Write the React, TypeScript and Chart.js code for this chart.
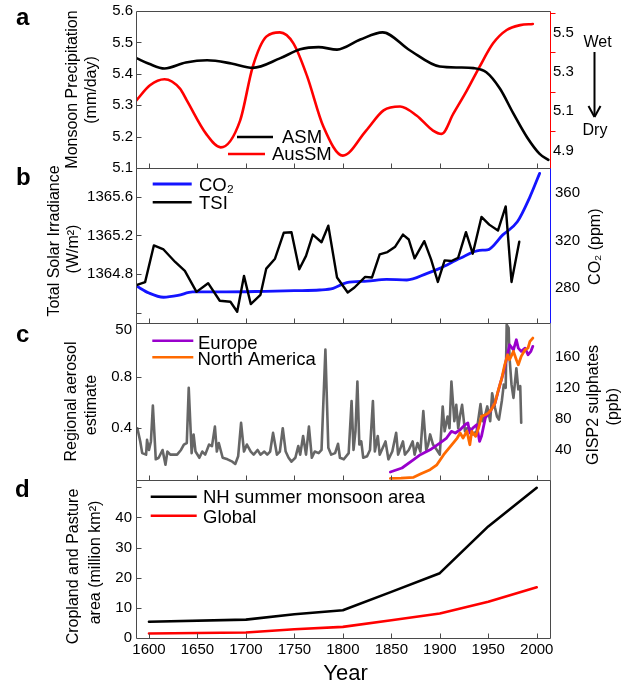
import React, { useEffect, useRef } from "react";
import { Chart, registerables } from "chart.js";

Chart.register(...registerables);

const W = 638;
const H = 682;
const PLOT_LEFT = 136;
const PLOT_RIGHT = 550;
const FAM = '"Liberation Sans", Arial, Helvetica, sans-serif';
const FRAME = "#4a4a4a";

const X_MIN = 1586.6;
const X_MAX = 2013.7;
const yearTicks = [1600, 1650, 1700, 1750, 1800, 1850, 1900, 1950, 2000];
const yearTickLabels = ["1600", "1650", "1700", "1750", "1800", "1850", "1900", "1950", "2000"];

// ---------- Panel a: monsoon precipitation ----------
const asmYears = [1587, 1600, 1616, 1638, 1660, 1685, 1707, 1735, 1756, 1775, 1794, 1818, 1841, 1869, 1900, 1920, 1935, 1948, 1962, 1976, 1990, 2003, 2012];
const asmPrecip = [5.45, 5.432, 5.417, 5.436, 5.443, 5.433, 5.419, 5.449, 5.478, 5.485, 5.477, 5.509, 5.532, 5.475, 5.423, 5.42, 5.418, 5.405, 5.353, 5.273, 5.198, 5.145, 5.126];
const ausYears = [1587, 1601, 1616, 1632, 1639, 1659, 1674, 1694, 1707, 1721, 1735, 1749, 1763, 1780, 1800, 1824, 1842, 1859, 1876, 1893, 1902, 1914, 1928, 1941, 1955, 1969, 1983, 1996];
const ausPrecip = [5.155, 5.232, 5.263, 5.215, 5.155, 4.984, 4.915, 5.052, 5.326, 5.48, 5.502, 5.446, 5.28, 5.02, 4.873, 5.001, 5.104, 5.124, 5.078, 5.001, 4.984, 5.087, 5.206, 5.326, 5.446, 5.514, 5.539, 5.545];
const aLeftTicks = [5.1, 5.2, 5.3, 5.4, 5.5, 5.6];
const aLeftLabels = ["5.1", "5.2", "5.3", "5.4", "5.5", "5.6"];
const aRightTicks = [4.9, 5.1, 5.3, 5.5];
const aRightLabels = ["4.9", "5.1", "5.3", "5.5"];
const aRightMinor = [5.0, 5.2, 5.4, 5.6];

// ---------- Panel b: TSI and CO2 ----------
const tsiYears = [1587, 1596, 1605, 1615, 1627, 1637, 1649, 1661, 1673, 1684, 1691, 1698, 1705, 1715, 1721, 1730, 1739, 1747, 1755, 1762, 1769, 1778, 1785, 1794, 1805, 1812, 1823, 1830, 1838, 1846, 1854, 1862, 1868, 1874, 1884, 1891, 1898, 1905, 1912, 1919, 1927, 1934, 1943, 1951, 1960, 1968, 1974, 1982];
const tsiValues = [1364.689, 1364.72, 1365.097, 1365.056, 1364.927, 1364.835, 1364.62, 1364.709, 1364.529, 1364.518, 1364.416, 1364.784, 1364.495, 1364.59, 1364.859, 1364.961, 1365.227, 1365.233, 1364.852, 1364.99, 1365.209, 1365.13, 1365.3, 1364.767, 1364.614, 1364.665, 1364.774, 1364.767, 1365.005, 1365.029, 1365.084, 1365.209, 1365.158, 1364.964, 1365.141, 1364.954, 1364.722, 1364.944, 1364.937, 1364.971, 1365.233, 1365.012, 1365.39, 1365.311, 1365.25, 1365.498, 1364.722, 1365.135];
const co2Years = [1587, 1600, 1615, 1630, 1645, 1680, 1720, 1750, 1776, 1790, 1804, 1825, 1845, 1866, 1887, 1900, 1921, 1941, 1949, 1965, 1980, 1993, 2003];
const co2Ppm = [282, 276, 272.5, 274, 277, 277, 277.5, 278, 278.6, 280, 284.8, 286, 287.6, 287, 292.6, 296.8, 305.3, 312, 312.3, 325, 336, 357, 376.8];
const bLeftTicks = [1364.8, 1365.2, 1365.6];
const bLeftLabels = ["1364.8", "1365.2", "1365.6"];
const bLeftMarks = [1364.4, 1364.8, 1365.2, 1365.6];
const bRightTicks = [280, 320, 360];
const bRightLabels = ["280", "320", "360"];

// ---------- Panel c: aerosols and sulphates ----------
const gispYears = [1588, 1591, 1593, 1597, 1598, 1600, 1602, 1604, 1607, 1610, 1614, 1617, 1619, 1622, 1629, 1633, 1636, 1639, 1641, 1644, 1646, 1648, 1652, 1655, 1658, 1662, 1665, 1668, 1670, 1672, 1676, 1681, 1686, 1689, 1692, 1695, 1698, 1701, 1705, 1708, 1712, 1715, 1719, 1722, 1725, 1728, 1732, 1735, 1738, 1741, 1744, 1747, 1751, 1754, 1756, 1759, 1762, 1765, 1768, 1771, 1775, 1778, 1782, 1785, 1788, 1792, 1795, 1797, 1801, 1806, 1809, 1811, 1813, 1815, 1817, 1819, 1821, 1825, 1828, 1831, 1833, 1836, 1838, 1844, 1847, 1851, 1855, 1857, 1862, 1864, 1868, 1872, 1874, 1877, 1880, 1883, 1886, 1888, 1890, 1893, 1897, 1900, 1903, 1905, 1908, 1910, 1912, 1915, 1917, 1919, 1921, 1923, 1926, 1928, 1931, 1934, 1938, 1942, 1944, 1946, 1949, 1952, 1954, 1957, 1959, 1961, 1964, 1966, 1968, 1969, 1971, 1972, 1974, 1976, 1977, 1979, 1981, 1983, 1984];
const gispPpb = [68, 51, 36, 34, 53, 40, 51, 97, 28, 30, 40, 21, 38, 34, 34, 40, 47, 49, 120, 36, 60, 38, 30, 38, 34, 47, 45, 70, 38, 49, 30, 28, 25, 22, 32, 75, 38, 47, 38, 34, 40, 34, 38, 34, 38, 62, 34, 38, 68, 38, 30, 25, 30, 45, 34, 58, 34, 70, 30, 38, 36, 40, 169, 43, 34, 36, 48, 30, 28, 36, 103, 40, 64, 128, 47, 51, 30, 32, 40, 103, 38, 58, 34, 51, 28, 38, 62, 34, 51, 34, 40, 51, 34, 49, 38, 90, 40, 47, 60, 47, 40, 34, 96, 64, 83, 68, 128, 77, 98, 68, 85, 98, 64, 68, 68, 60, 64, 99, 77, 81, 96, 77, 113, 94, 83, 79, 103, 124, 120, 201, 197, 158, 124, 107, 120, 145, 118, 122, 75];
const europeYears = [1849, 1861, 1873, 1880, 1890, 1900, 1907, 1912, 1916, 1921, 1926, 1929, 1931, 1934, 1938, 1941, 1943, 1947, 1952, 1957, 1962, 1966, 1969, 1972, 1976, 1979, 1981, 1984, 1988, 1991, 1994, 1996];
const europeAerosol = [0.062, 0.093, 0.157, 0.196, 0.234, 0.286, 0.325, 0.377, 0.364, 0.389, 0.428, 0.441, 0.364, 0.402, 0.428, 0.299, 0.338, 0.48, 0.532, 0.596, 0.737, 0.841, 0.944, 1.047, 1.008, 1.086, 1.021, 0.996, 1.021, 0.97, 0.996, 1.035];
const naYears = [1849, 1860, 1873, 1880, 1890, 1897, 1904, 1911, 1918, 1921, 1924, 1928, 1931, 1933, 1937, 1940, 1943, 1947, 1950, 1953, 1957, 1960, 1964, 1967, 1970, 1972, 1976, 1979, 1981, 1984, 1988, 1991, 1993, 1996];
const naAerosol = [0.012, 0.015, 0.021, 0.046, 0.08, 0.118, 0.196, 0.261, 0.325, 0.364, 0.325, 0.377, 0.273, 0.377, 0.338, 0.402, 0.493, 0.505, 0.518, 0.544, 0.596, 0.686, 0.789, 0.892, 0.97, 0.931, 0.996, 0.931, 0.892, 0.957, 1.008, 1.021, 1.073, 1.099];
const cLeftTicks = [0.4, 0.8, 1.16];
const cLeftLabels = ["0.4", "0.8", "50"];
const cLeftMarks = [0.4, 0.8];
const cRightTicks = [40, 80, 120, 160];
const cRightLabels = ["40", "80", "120", "160"];

// ---------- Panel d: cropland and pasture ----------
const landYears = [1600, 1700, 1750, 1800, 1850, 1900, 1950, 2000];
const nhMonsoonArea = [5.4, 6.1, 7.9, 9.2, 15.3, 21.5, 37, 49.8];
const globalArea = [1.5, 1.8, 2.9, 3.7, 5.9, 8.1, 12, 16.8];
const dLeftTicks = [0, 10, 20, 30, 40];
const dLeftLabels = ["0", "10", "20", "30", "40"];
const dLeftMarks = [10, 20, 30, 40, 50];

// ---------- types & helpers ----------
type Txt = { t: string; x: number; y: number; size: number; bold?: boolean; rot?: boolean; align?: CanvasTextAlign };
type Seg = { x1: number; y1: number; x2: number; y2: number; color: string; width: number };
type AxisSpec = { min: number; max: number; values: number[]; labels: string[]; marks: number[]; pad: number; color?: string; markLen?: number };
type PanelSpec = {
  top: number;
  bottom: number;
  datasets: any[];
  left: AxisSpec;
  right?: AxisSpec;
  rightBorder: string;
  showX: boolean;
  texts: Txt[];
  segs: Seg[];
};

function pts(xs: number[], ys: number[]) {
  return xs.map((x, i) => ({ x, y: ys[i] }));
}

function line(label: string, xs: number[], ys: number[], axis: string, color: string, width: number, smooth = false) {
  return {
    label,
    data: pts(xs, ys),
    yAxisID: axis,
    borderColor: color,
    backgroundColor: color,
    borderWidth: width,
    pointRadius: 0,
    fill: false,
    tension: 0,
    cubicInterpolationMode: smooth ? "monotone" : "default",
  };
}

function yAxis(spec: AxisSpec, pos: "left" | "right") {
  return {
    type: "linear",
    position: pos,
    min: spec.min,
    max: spec.max,
    grid: { display: false, drawTicks: false },
    border: { display: false },
    afterBuildTicks: (s: any) => {
      s.ticks = spec.values.map((v) => ({ value: v }));
    },
    afterFit: (s: any) => {
      s.width = pos === "left" ? PLOT_LEFT : W - PLOT_RIGHT;
    },
    ticks: {
      autoSkip: false,
      padding: spec.pad,
      color: "#000",
      font: { family: FAM, size: 15, lineHeight: 1 },
      callback: (_v: any, i: number) => spec.labels[i],
    },
  };
}

function deco(spec: PanelSpec) {
  return {
    id: "deco",
    afterDraw(chart: any) {
      const ctx: CanvasRenderingContext2D = chart.ctx;
      const a = chart.chartArea;
      const xs = chart.scales.x;
      const yl = chart.scales.yL;
      const yr = chart.scales.yR;
      const L = Math.round(a.left) + 0.5;
      const R = Math.round(a.right) + 0.5;
      const T = Math.round(a.top) + 0.5;
      const B = Math.round(a.bottom) + 0.5;
      ctx.save();
      ctx.lineWidth = 1;
      ctx.strokeStyle = FRAME;
      ctx.beginPath();
      ctx.moveTo(R, T);
      ctx.lineTo(L, T);
      ctx.lineTo(L, B);
      ctx.lineTo(R, B);
      for (const yv of yearTicks) {
        const px = Math.round(xs.getPixelForValue(yv)) + 0.5;
        ctx.moveTo(px, B);
        ctx.lineTo(px, B - 5);
      }
      for (const v of spec.left.marks) {
        const py = Math.round(yl.getPixelForValue(v)) + 0.5;
        ctx.moveTo(L, py);
        ctx.lineTo(L + 5, py);
      }
      ctx.stroke();
      ctx.strokeStyle = spec.rightBorder;
      ctx.beginPath();
      ctx.moveTo(R, T);
      ctx.lineTo(R, B);
      ctx.stroke();
      if (spec.right && yr) {
        ctx.strokeStyle = spec.right.color || FRAME;
        ctx.beginPath();
        for (const v of spec.right.marks) {
          const py = Math.round(yr.getPixelForValue(v)) + 0.5;
          ctx.moveTo(R, py);
          ctx.lineTo(R + (spec.right.markLen || 5), py);
        }
        ctx.stroke();
      }
      ctx.lineCap = "butt";
      for (const s of spec.segs) {
        ctx.strokeStyle = s.color;
        ctx.lineWidth = s.width;
        ctx.beginPath();
        ctx.moveTo(s.x1, s.y1);
        ctx.lineTo(s.x2, s.y2);
        ctx.stroke();
      }
      ctx.fillStyle = "#000";
      for (const t of spec.texts) {
        ctx.font = `${t.bold ? "bold " : ""}${t.size}px ${FAM}`;
        if (t.rot) {
          ctx.save();
          ctx.translate(t.x, t.y);
          ctx.rotate(-Math.PI / 2);
          ctx.textAlign = "center";
          ctx.textBaseline = "middle";
          ctx.fillText(t.t, 0, 0);
          ctx.restore();
        } else {
          ctx.textAlign = t.align || "left";
          ctx.textBaseline = "alphabetic";
          ctx.fillText(t.t, t.x, t.y);
        }
      }
      ctx.restore();
    },
  };
}

function buildConfig(spec: PanelSpec): any {
  const scales: any = {
    x: {
      type: "linear",
      min: X_MIN,
      max: X_MAX,
      display: spec.showX,
      grid: { display: false, drawTicks: false },
      border: { display: false },
      afterBuildTicks: (s: any) => {
        s.ticks = yearTicks.map((v) => ({ value: v }));
      },
      ticks: {
        autoSkip: false,
        maxRotation: 0,
        padding: 4,
        color: "#000",
        font: { family: FAM, size: 15, lineHeight: 1 },
        callback: (_v: any, i: number) => yearTickLabels[i],
      },
    },
    yL: yAxis(spec.left, "left"),
  };
  if (spec.showX) {
    scales.x.afterFit = (s: any) => {
      s.height = H - spec.bottom;
    };
  }
  if (spec.right) scales.yR = yAxis(spec.right, "right");
  return {
    type: "line",
    data: { datasets: spec.datasets },
    options: {
      responsive: false,
      animation: false,
      events: [],
      layout: {
        padding: {
          top: spec.top,
          bottom: spec.showX ? 0 : H - spec.bottom,
          left: 0,
          right: spec.right ? 0 : W - PLOT_RIGHT,
        },
      },
      plugins: { legend: { display: false }, tooltip: { enabled: false } },
      elements: { line: { borderJoinStyle: "round", borderCapStyle: "round" } },
      scales,
    },
    plugins: [deco(spec)],
  };
}

const RED = "#ff0000";
const BLUE = "#1414ff";
const PURPLE = "#9900cc";
const ORANGE = "#ff6a00";
const GRAY = "#666666";

const panelA: PanelSpec = {
  top: 11,
  bottom: 168,
  showX: false,
  rightBorder: RED,
  datasets: [
    line("ASM", asmYears, asmPrecip, "yL", "#000", 2.6, true),
    line("AusSM", ausYears, ausPrecip, "yR", RED, 2.6, true),
  ],
  left: { min: 5.1, max: 5.6, values: aLeftTicks, labels: aLeftLabels, marks: [5.2, 5.3, 5.4, 5.5], pad: 3 },
  right: { min: 4.81, max: 5.611, values: aRightTicks, labels: aRightLabels, marks: aRightMinor, pad: 3, color: RED, markLen: 5 },
  texts: [
    { t: "a", x: 16, y: 25, size: 24, bold: true },
    { t: "Monsoon Precipitation", x: 73, y: 89.5, size: 16, rot: true },
    { t: "(mm/day)", x: 92, y: 90, size: 16, rot: true },
    { t: "ASM", x: 282, y: 143, size: 18.5 },
    { t: "AusSM", x: 272, y: 160, size: 18.5 },
    { t: "Wet", x: 597.5, y: 47, size: 16, align: "center" },
    { t: "Dry", x: 595, y: 135, size: 16, align: "center" },
  ],
  segs: [
    { x1: 237, y1: 137, x2: 273, y2: 137, color: "#000", width: 2.6 },
    { x1: 228, y1: 154, x2: 265, y2: 154, color: RED, width: 2.6 },
    { x1: 594.5, y1: 52, x2: 594.5, y2: 116, color: "#000", width: 2 },
    { x1: 588.5, y1: 106, x2: 594.5, y2: 117, color: "#000", width: 2 },
    { x1: 600.5, y1: 106, x2: 594.5, y2: 117, color: "#000", width: 2 },
  ],
};

const panelB: PanelSpec = {
  top: 168,
  bottom: 323,
  showX: false,
  rightBorder: BLUE,
  datasets: [
    line("TSI", tsiYears, tsiValues, "yL", "#000", 2.4),
    line("CO₂", co2Years, co2Ppm, "yR", BLUE, 2.8, true),
  ],
  left: { min: 1364.3, max: 1365.893, values: bLeftTicks, labels: bLeftLabels, marks: bLeftMarks, pad: 3 },
  right: { min: 250.8, max: 381.3, values: bRightTicks, labels: bRightLabels, marks: [], pad: 5, color: BLUE },
  texts: [
    { t: "b", x: 16, y: 185, size: 24, bold: true },
    { t: "Total Solar Irradiance", x: 55, y: 241, size: 16, rot: true },
    { t: "(W/m²)", x: 74, y: 249, size: 16, rot: true },
    { t: "CO₂", x: 199, y: 190.7, size: 18.5 },
    { t: "TSI", x: 199, y: 209.3, size: 18.5 },
    { t: "CO₂ (ppm)", x: 595.7, y: 246.7, size: 16, rot: true },
  ],
  segs: [
    { x1: 152.7, y1: 184, x2: 191.7, y2: 184, color: BLUE, width: 2.8 },
    { x1: 152.7, y1: 202.3, x2: 191.7, y2: 202.3, color: "#000", width: 2.6 },
  ],
};

const panelC: PanelSpec = {
  top: 323,
  bottom: 480,
  showX: false,
  rightBorder: "#8c8c8c",
  datasets: [
    line("North America", naYears, naAerosol, "yL", ORANGE, 2.8),
    line("Europe", europeYears, europeAerosol, "yL", PURPLE, 2.8),
    line("GISP2", gispYears, gispPpb, "yR", GRAY, 2.6),
  ],
  left: { min: 0, max: 1.2156, values: cLeftTicks, labels: cLeftLabels, marks: cLeftMarks, pad: 4 },
  right: { min: 1.4, max: 203.3, values: cRightTicks, labels: cRightLabels, marks: [], pad: 5, color: "#333" },
  texts: [
    { t: "c", x: 16, y: 342, size: 24, bold: true },
    { t: "Regional aerosol", x: 71.7, y: 401.5, size: 16, rot: true },
    { t: "estimate", x: 91.7, y: 405, size: 16, rot: true },
    { t: "Europe", x: 198, y: 348.7, size: 18.5 },
    { t: "North America", x: 197.5, y: 364.7, size: 18.5 },
    { t: "GISP2 sulphates", x: 593.7, y: 405, size: 16, rot: true },
    { t: "(ppb)", x: 614, y: 406.7, size: 16, rot: true },
  ],
  segs: [
    { x1: 152.3, y1: 340.7, x2: 193.3, y2: 340.7, color: PURPLE, width: 2.6 },
    { x1: 152.3, y1: 357.3, x2: 193.3, y2: 357.3, color: ORANGE, width: 2.6 },
  ],
};

const panelD: PanelSpec = {
  top: 480,
  bottom: 638,
  showX: true,
  rightBorder: FRAME,
  datasets: [
    line("NH summer monsoon area", landYears, nhMonsoonArea, "yL", "#000", 2.6),
    line("Global", landYears, globalArea, "yL", RED, 2.6),
  ],
  left: { min: 0, max: 52.4, values: dLeftTicks, labels: dLeftLabels, marks: dLeftMarks, pad: 4 },
  texts: [
    { t: "d", x: 15, y: 497, size: 24, bold: true },
    { t: "Cropland and Pasture", x: 74, y: 566.5, size: 16, rot: true },
    { t: "area (million km²)", x: 95.5, y: 562.5, size: 16, rot: true },
    { t: "NH summer monsoon area", x: 203, y: 503.3, size: 18.5 },
    { t: "Global", x: 203, y: 522.7, size: 18.5 },
    { t: "Year", x: 345.5, y: 680, size: 22, align: "center" },
  ],
  segs: [
    { x1: 150.7, y1: 496.7, x2: 196.7, y2: 496.7, color: "#000", width: 2.6 },
    { x1: 150.7, y1: 515.7, x2: 196.7, y2: 515.7, color: RED, width: 2.6 },
  ],
};

const panels = [panelA, panelB, panelC, panelD];

function PanelChart({ spec }: { spec: PanelSpec }) {
  const ref = useRef<HTMLCanvasElement | null>(null);
  useEffect(() => {
    const canvas = ref.current;
    if (!canvas) return;
    const chart = new Chart(canvas, buildConfig(spec));
    return () => chart.destroy();
  }, [spec]);
  return (
    <canvas
      ref={ref}
      width={W}
      height={H}
      style={{ position: "absolute", left: 0, top: 0, width: W, height: H }}
    />
  );
}

export default function App() {
  return (
    <div style={{ position: "absolute", left: 0, top: 0, width: W, height: H, background: "#fff", overflow: "hidden" }}>
      {panels.map((p, i) => (
        <PanelChart key={i} spec={p} />
      ))}
    </div>
  );
}
